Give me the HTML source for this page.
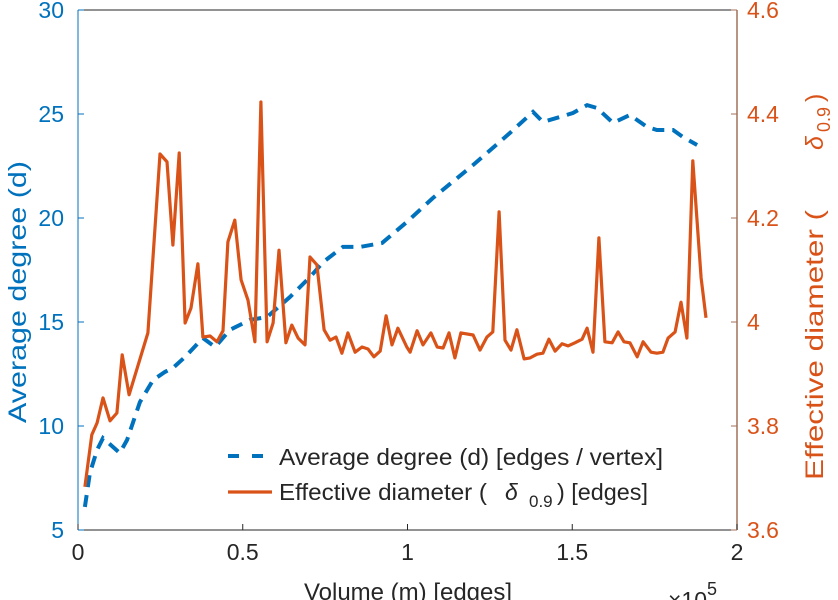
<!DOCTYPE html>
<html><head><meta charset="utf-8"><style>
html,body{margin:0;padding:0;background:#fff;}
svg{display:block;font-family:"Liberation Sans",sans-serif;}
</style></head><body>
<svg id="chart" width="838" height="600" viewBox="0 0 838 600" xmlns="http://www.w3.org/2000/svg"></svg>
<script>
const xTicks=[0,0.5,1,1.5,2];
const xTickLabels=["0","0.5","1","1.5","2"];
const leftTicks=[5,10,15,20,25,30];
const rightTicks=[3.6,3.8,4,4.2,4.4,4.6];
const rightTickLabels=["3.6","3.8","4","4.2","4.4","4.6"];
const degX=[0.021,0.036,0.058,0.076,0.127,0.149,0.188,0.228,0.264,0.288,0.325,0.379,0.416,0.461,0.522,0.574,0.643,0.704,0.744,0.804,0.856,0.923,0.998,1.077,1.199,1.311,1.381,1.411,1.472,1.502,1.545,1.575,1.624,1.675,1.727,1.757,1.806,1.836,1.879];
const degY=[6.11,7.74,8.85,9.42,8.70,9.33,11.15,12.21,12.60,12.79,13.32,14.23,13.80,14.62,15.10,15.24,16.20,17.16,17.88,18.61,18.61,18.80,19.81,20.96,22.55,24.09,25.10,24.62,24.90,25.05,25.43,25.29,24.57,24.95,24.38,24.23,24.23,23.89,23.51];
const diaX=[0.021,0.042,0.058,0.076,0.097,0.118,0.134,0.155,0.212,0.249,0.270,0.288,0.307,0.325,0.343,0.364,0.379,0.401,0.422,0.440,0.455,0.476,0.495,0.516,0.537,0.555,0.574,0.592,0.610,0.631,0.649,0.668,0.689,0.704,0.725,0.747,0.765,0.783,0.801,0.819,0.841,0.862,0.880,0.898,0.917,0.935,0.953,0.971,0.998,1.008,1.029,1.047,1.071,1.090,1.108,1.126,1.144,1.162,1.199,1.220,1.241,1.259,1.278,1.296,1.314,1.332,1.354,1.372,1.393,1.411,1.429,1.448,1.469,1.487,1.508,1.530,1.545,1.563,1.581,1.599,1.621,1.639,1.657,1.675,1.697,1.715,1.739,1.757,1.775,1.791,1.812,1.830,1.848,1.866,1.891,1.906];
const diaY=[3.683,3.783,3.806,3.854,3.810,3.825,3.937,3.860,3.979,4.323,4.308,4.148,4.325,3.998,4.027,4.112,3.971,3.973,3.962,3.983,4.154,4.196,4.081,4.042,3.962,4.423,3.962,3.998,4.138,3.960,3.994,3.969,3.956,4.125,4.110,3.985,3.965,3.971,3.940,3.979,3.942,3.952,3.948,3.933,3.944,4.012,3.956,3.988,3.952,3.942,3.983,3.956,3.979,3.952,3.950,3.979,3.931,3.979,3.975,3.946,3.971,3.981,4.212,3.965,3.946,3.985,3.929,3.931,3.938,3.940,3.967,3.944,3.958,3.954,3.960,3.967,3.988,3.942,4.162,3.962,3.960,3.981,3.962,3.960,3.933,3.962,3.942,3.940,3.942,3.969,3.981,4.038,3.969,4.310,4.085,4.008];

const L=78,R=737,T=10,B=530;
const sx=v=>L+(v-0)/(2-0)*(R-L);
const syL=v=>B-(v-5)/(30-5)*(B-T);
const syR=v=>B-(v-3.6)/(4.6-3.6)*(B-T);
const svg=document.getElementById('chart');
const NS='http://www.w3.org/2000/svg';
function mk(tag,attrs,parent){const e=document.createElementNS(NS,tag);for(const k in attrs)e.setAttribute(k,attrs[k]);(parent||svg).appendChild(e);return e;}
const BLUE='#0072BD',ORANGE='#D95319',GRAY='#262626',RAX='#a0705a';

let e;
e=mk('line',{x1:L,y1:B,x2:R,y2:B,stroke:GRAY,'stroke-width':1});


e=mk('line',{x1:L,y1:T,x2:R,y2:T,stroke:GRAY,'stroke-width':1});


e=mk('line',{x1:L,y1:T,x2:L,y2:B,stroke:BLUE,'stroke-width':1});


e=mk('line',{x1:R,y1:T,x2:R,y2:B,stroke:RAX,'stroke-width':1.5});



xTicks.forEach((v,i)=>{
  const x=sx(v);
  const t=mk('line',{x1:x,y1:B,x2:x,y2:B-6,stroke:GRAY});
  
  
  const lb=mk('text',{x:x,y:B+30,'text-anchor':'middle','font-size':23,fill:GRAY});
  lb.textContent=xTickLabels[i];
  
  
});
leftTicks.forEach(v=>{
  const y=syL(v);
  const t=mk('line',{x1:L,y1:y,x2:L+6,y2:y,stroke:BLUE});
  
  
  const lb=mk('text',{x:L-14,y:y+8,'text-anchor':'end','font-size':23,fill:BLUE});
  lb.textContent=String(v);
  
  
});
rightTicks.forEach((v,i)=>{
  const y=syR(v);
  const t=mk('line',{x1:R,y1:y,x2:R-6,y2:y,stroke:RAX});
  
  
  const lb=mk('text',{x:R+10,y:y+8,'text-anchor':'start','font-size':23,fill:ORANGE});
  lb.textContent=rightTickLabels[i];
  
  
});

let dBlue=degX.map((x,i)=>(i?'L':'M')+sx(x).toFixed(1)+','+syL(degY[i]).toFixed(1)).join('');
e=mk('path',{d:dBlue,fill:'none',stroke:BLUE,'stroke-width':4,'stroke-dasharray':'12,8'});


let dOr=diaX.map((x,i)=>(i?'L':'M')+sx(x).toFixed(1)+','+syR(diaY[i]).toFixed(1)).join('');
e=mk('path',{d:dOr,fill:'none',stroke:ORANGE,'stroke-width':3.2,'stroke-linejoin':'round'});



// legend
const lg=mk('g',{});


e=mk('line',{x1:228,y1:456,x2:268,y2:456,stroke:BLUE,'stroke-width':4,'stroke-dasharray':'11,13'},lg);


e=mk('text',{x:279,y:465,'font-size':23,fill:GRAY,textLength:384,lengthAdjust:'spacingAndGlyphs'},lg);
e.textContent='Average degree (d) [edges / vertex]';


e=mk('line',{x1:228,y1:492,x2:272,y2:492,stroke:ORANGE,'stroke-width':3.2},lg);


e=mk('text',{x:279,y:500,'font-size':23,fill:GRAY},lg);
e.innerHTML='<tspan x="279" textLength="208" lengthAdjust="spacingAndGlyphs">Effective diameter (</tspan><tspan x="505" font-style="italic">δ</tspan><tspan x="529" dy="7" font-size="17">0.9</tspan><tspan x="557" dy="-7" textLength="91" lengthAdjust="spacingAndGlyphs">) [edges]</tspan>';



// axis titles
e=mk('text',{x:0,y:0,'font-size':25,fill:BLUE,'text-anchor':'middle',transform:'translate(26,292) rotate(-90)',textLength:262,lengthAdjust:'spacingAndGlyphs'});
e.textContent='Average degree (d)';


e=mk('text',{x:0,y:0,'font-size':25,fill:ORANGE,transform:'translate(823,480) rotate(-90)'});
e.innerHTML='<tspan x="0" textLength="270" lengthAdjust="spacingAndGlyphs">Effective diameter (</tspan><tspan x="330" font-style="italic">δ</tspan><tspan x="348" dy="7" font-size="18">0.9</tspan><tspan x="378" dy="-7">)</tspan>';


e=mk('text',{x:408,y:600,'font-size':24,fill:GRAY,'text-anchor':'middle'});
e.textContent='Volume (m) [edges]';


e=mk('text',{x:668,y:608,'font-size':23,fill:GRAY});
e.innerHTML='×10<tspan font-size="18" dy="-13">5</tspan>';


</script>
</body></html>
